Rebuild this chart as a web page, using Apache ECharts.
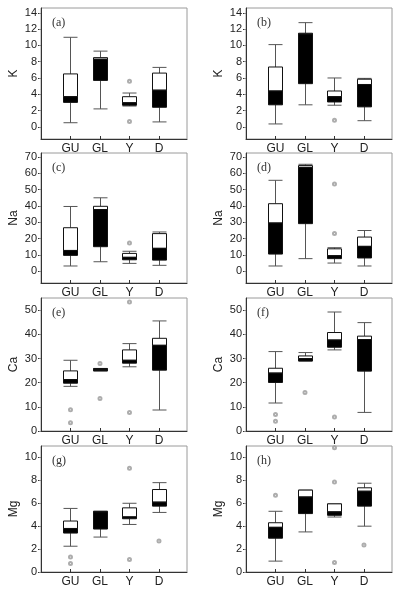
<!DOCTYPE html>
<html>
<head>
    <meta charset='utf-8'>
    <script src='https://cdn.jsdelivr.net/npm/echarts@6/dist/echarts.min.js'></script>
    <style>
        html, body, #main {
            width: 100%;
            height: 100%;
            margin: 0;
            background: #fff;
        }
    </style>
</head>
<body>
<div id='main'></div>
<script>
    var groups = ['GU', 'GL', 'Y', 'D'];

    // each box: [lower whisker, Q1, median, Q3, upper whisker]
    var kA = [[0.5, 3.0, 3.7, 6.5, 11.0], [2.2, 5.7, 8.3, 8.5, 9.3], [2.55, 2.65, 2.95, 3.7, 4.15], [0.6, 2.4, 4.5, 6.6, 7.3]];
    var kB = [[0.35, 2.7, 4.4, 7.35, 10.1], [2.7, 5.3, 11.4, 11.5, 12.8], [2.65, 3.05, 3.7, 4.4, 6.0], [0.75, 2.45, 5.2, 5.85, 5.95]];
    var naC = [[3.3, 9.8, 12.8, 26.7, 39.7], [5.9, 15.1, 37.8, 39.8, 45.0], [4.9, 7.1, 8.6, 11.0, 12.3], [3.7, 6.9, 14.1, 23.1, 24.1]];
    var naD = [[3.3, 10.6, 29.6, 41.4, 55.7], [7.8, 29.2, 63.6, 64.7, 65.5], [5.1, 7.8, 9.6, 13.8, 14.5], [3.3, 8.2, 15.3, 21.0, 25.0]];
    var caE = [[18.5, 19.8, 21.3, 24.9, 29.3], [24.9, 24.9, 25.6, 25.9, 25.9], [26.6, 28.1, 29.3, 33.6, 36.2], [8.7, 25.2, 35.5, 38.4, 45.6]];
    var caF = [[11.6, 20.1, 24.0, 26.0, 32.9], [29.0, 29.0, 30.0, 31.1, 32.5], [33.6, 34.7, 37.7, 40.8, 49.3], [7.7, 24.8, 37.9, 39.3, 44.9]];
    var mgG = [[2.25, 3.4, 3.8, 4.45, 5.55], [3.05, 3.75, 5.25, 5.3, 5.3], [4.15, 4.65, 4.81, 5.6, 6.0], [5.2, 5.75, 6.1, 7.2, 7.8]];
    var mgH = [[0.95, 2.95, 3.9, 4.3, 5.3], [3.5, 5.1, 6.55, 7.15, 7.15], [4.8, 4.95, 5.25, 5.95, 5.95], [4.0, 5.75, 7.05, 7.35, 7.75]];

    // outliers: [group position (1..4), value]
    var kAOut = [[3, 5.6], [3, 0.65]];
    var kBOut = [[3, 0.8]];
    var naCOut = [[3, 17.3]];
    var naDOut = [[3, 53.5], [3, 23.1]];
    var caEOut = [[1, 8.8], [1, 3.4], [2, 28.0], [2, 13.5], [3, 53.4], [3, 7.7]];
    var caFOut = [[1, 6.8], [1, 4.0], [2, 16.0], [3, 5.8]];
    var mgGOut = [[1, 1.3], [1, 0.75], [3, 9.05], [3, 1.1], [4, 2.7]];
    var mgHOut = [[1, 6.7], [3, 7.85], [3, 0.82], [3, 10.85], [4, 2.35]];

    var kTicks = [0, 2, 4, 6, 8, 10, 12, 14];
    var naTicks = [0, 10, 20, 30, 40, 50, 60, 70];
    var caTicks = [0, 10, 20, 30, 40, 50];
    var mgTicks = [0, 2, 4, 6, 8, 10];

    var panels = [
        {tag: '(a)', name: 'K', box: kA, out: kAOut, ticks: kTicks, min: -1.5, max: 14.6, col: 0, row: 0},
        {tag: '(b)', name: 'K', box: kB, out: kBOut, ticks: kTicks, min: -1.5, max: 14.6, col: 1, row: 0},
        {tag: '(c)', name: 'Na', box: naC, out: naCOut, ticks: naTicks, min: -7.1, max: 72.4, col: 0, row: 1},
        {tag: '(d)', name: 'Na', box: naD, out: naDOut, ticks: naTicks, min: -7.1, max: 72.4, col: 1, row: 1},
        {tag: '(e)', name: 'Ca', box: caE, out: caEOut, ticks: caTicks, min: 0, max: 55.1, col: 0, row: 2},
        {tag: '(f)', name: 'Ca', box: caF, out: caFOut, ticks: caTicks, min: 0, max: 55.1, col: 1, row: 2},
        {tag: '(g)', name: 'Mg', box: mgG, out: mgGOut, ticks: mgTicks, min: 0, max: 11, col: 0, row: 3},
        {tag: '(h)', name: 'Mg', box: mgH, out: mgHOut, ticks: mgTicks, min: 0, max: 11, col: 1, row: 3}
    ];

    var colLeft = [41, 246];
    var rowTop = [8, 153, 298, 446];
    var rowHeight = [131, 130, 133, 126];
    var panelWidth = 146;

    function renderBox(params, api) {
        var x = api.value(0);
        var lo = api.coord([x, api.value(1)]);
        var q1 = api.coord([x, api.value(2)]);
        var md = api.coord([x, api.value(3)]);
        var q3 = api.coord([x, api.value(4)]);
        var hi = api.coord([x, api.value(5)]);
        var w = Math.round(api.size([1, 0])[0] * 0.48);
        var cx = Math.round(lo[0]) + 0.5;
        var whisker = {stroke: '#555', lineWidth: 1};
        return {
            type: 'group',
            children: [
                {type: 'line', shape: {x1: cx, y1: hi[1], x2: cx, y2: q3[1]}, style: whisker},
                {type: 'line', shape: {x1: cx, y1: q1[1], x2: cx, y2: lo[1]}, style: whisker},
                {type: 'line', shape: {x1: cx - w / 2, y1: hi[1], x2: cx + w / 2, y2: hi[1]}, style: whisker},
                {type: 'line', shape: {x1: cx - w / 2, y1: lo[1], x2: cx + w / 2, y2: lo[1]}, style: whisker},
                {type: 'rect', shape: {x: cx - w / 2, y: q3[1], width: w, height: md[1] - q3[1]},
                    style: {fill: '#fff', stroke: '#111', lineWidth: 1}},
                {type: 'rect', shape: {x: cx - w / 2, y: md[1], width: w, height: q1[1] - md[1]},
                    style: {fill: '#000', stroke: '#111', lineWidth: 1}}
            ]
        };
    }

    var grids = [], xAxes = [], yAxes = [], series = [], texts = [];
    panels.forEach(function (p, i) {
        grids.push({
            left: colLeft[p.col], top: rowTop[p.row], width: panelWidth, height: rowHeight[p.row],
            show: true, borderColor: '#9a9a9a', borderWidth: 1, backgroundColor: 'transparent'
        });
        xAxes.push({
            type: 'value', gridIndex: i, min: 0, max: 4.95,
            axisLine: {show: true, onZero: false, lineStyle: {color: '#333'}},
            axisTick: {show: true, inside: true, length: 3, customValues: [1, 2, 3, 4], lineStyle: {color: '#333'}},
            axisLabel: {
                customValues: [1, 2, 3, 4], margin: 4,
                color: '#222', fontSize: 12, fontFamily: 'Liberation Sans',
                formatter: function (v) { return groups[v - 1] || ''; }
            },
            splitLine: {show: false}
        });
        yAxes.push({
            type: 'value', gridIndex: i, min: p.min, max: p.max,
            name: p.name, nameLocation: 'middle', nameGap: 21, nameRotate: 90,
            nameTextStyle: {color: '#222', fontSize: 12, fontFamily: 'Liberation Sans'},
            axisLine: {show: true, onZero: false, lineStyle: {color: '#333'}},
            axisTick: {show: true, length: 3, customValues: p.ticks, lineStyle: {color: '#333'}},
            axisLabel: {customValues: p.ticks, margin: 4, color: '#222', fontSize: 11, fontFamily: 'Liberation Sans'},
            splitLine: {show: false}
        });
        yAxes.push({
            type: 'value', gridIndex: i, min: p.min, max: p.max, position: 'right',
            axisLine: {show: false},
            axisTick: {show: true, inside: true, length: 2, customValues: p.ticks, lineStyle: {color: '#888'}},
            axisLabel: {show: false},
            splitLine: {show: false}
        });
        series.push({
            type: 'custom', xAxisIndex: i, yAxisIndex: 2 * i,
            renderItem: renderBox,
            encode: {x: 0, y: [1, 2, 3, 4, 5]},
            data: p.box.map(function (b, k) { return [k + 1].concat(b); }),
            silent: true
        });
        series.push({
            type: 'scatter', xAxisIndex: i, yAxisIndex: 2 * i,
            symbol: 'emptyCircle', symbolSize: 3,
            itemStyle: {color: '#999', borderWidth: 0.8},
            data: p.out, silent: true
        });
        texts.push({
            type: 'text',
            left: colLeft[p.col] + 11, top: rowTop[p.row] + 9,
            style: {text: p.tag, fill: '#333', font: '12px "Liberation Serif"'}
        });
    });

    var myChart = echarts.init(document.getElementById('main'));
    myChart.setOption({
        backgroundColor: '#fff',
        animation: false,
        grid: grids,
        xAxis: xAxes,
        yAxis: yAxes,
        series: series,
        graphic: texts
    });
</script>
</body>
</html>
